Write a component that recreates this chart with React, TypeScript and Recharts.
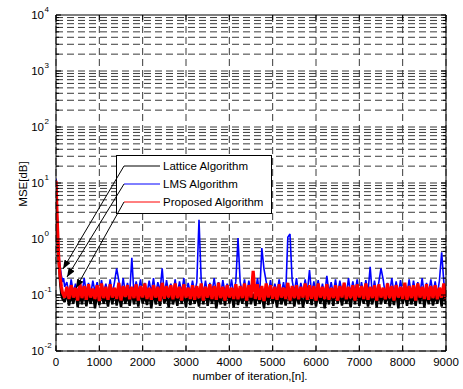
import { LineChart, Line, XAxis, YAxis, CartesianGrid } from "recharts";

// iteration index of each sample: dense start, then every 50 iterations
const headIterations = [0, 10, 20, 30, 45, 60, 80, 100, 125, 150, 175, 200];
const tailIterations = Array.from({ length: 176 }, (_, i) => 250 + i * 50);
const iterations = [...headIterations, ...tailIterations];

const xTicks = [0, 1000, 2000, 3000, 4000, 5000, 6000, 7000, 8000, 9000];
const yTicks = [0.01, 0.1, 1, 10, 100, 1000, 10000];

// Lattice Algorithm (black)
const latticeHead = [10, 5, 2.5, 1.5, 0.8, 0.4, 0.25, 0.15, 0.1, 0.085, 0.08, 0.075];
const latticeTail = [
  0.11, 0.065, 0.1, 0.07, 0.115, 0.06, 0.105, 0.068, 0.12, 0.063, 0.1, 0.07, 0.11, 0.058, 0.105, 0.066,
  0.115, 0.07, 0.1, 0.062, 0.11, 0.068, 0.12, 0.065, 0.105, 0.06, 0.11, 0.07, 0.1, 0.064, 0.115, 0.068,
  0.105, 0.062, 0.12, 0.07, 0.1, 0.066, 0.11, 0.058, 0.115, 0.068, 0.1, 0.064, 0.12, 0.07, 0.105, 0.06,
  0.11, 0.068, 0.1, 0.064, 0.115, 0.07, 0.105, 0.06, 0.12, 0.066, 0.11, 0.07, 0.1, 0.062, 0.115, 0.068,
  0.12, 0.064, 0.105, 0.07, 0.11, 0.058, 0.1, 0.068, 0.115, 0.065, 0.12, 0.07, 0.105, 0.06, 0.11, 0.066,
  0.1, 0.07, 0.115, 0.062, 0.12, 0.068, 0.105, 0.064, 0.11, 0.07, 0.1, 0.058, 0.115, 0.066, 0.12, 0.07,
  0.105, 0.06, 0.11, 0.068, 0.1, 0.065, 0.12, 0.07, 0.115, 0.062, 0.105, 0.068, 0.11, 0.06, 0.1, 0.07,
  0.115, 0.066, 0.12, 0.062, 0.105, 0.07, 0.11, 0.058, 0.1, 0.068, 0.115, 0.064, 0.12, 0.07, 0.105, 0.065,
  0.11, 0.07, 0.1, 0.06, 0.115, 0.068, 0.12, 0.064, 0.105, 0.07, 0.11, 0.062, 0.1, 0.068, 0.115, 0.06,
  0.12, 0.068, 0.105, 0.07, 0.11, 0.062, 0.1, 0.066, 0.115, 0.058, 0.12, 0.07, 0.105, 0.064, 0.11, 0.068,
  0.1, 0.064, 0.115, 0.07, 0.12, 0.06, 0.105, 0.068, 0.11, 0.065, 0.1, 0.07, 0.115, 0.062, 0.12, 0.066,
];

// LMS Algorithm (blue)
const lmsHead = [12, 7, 4, 2.5, 1.3, 0.7, 0.4, 0.3, 0.22, 0.17, 0.2, 0.14];
const lmsTail = [
  0.17, 0.1, 0.19, 0.11, 0.16, 0.105, 0.18, 0.1, 0.2, 0.11, 0.165, 0.1, 0.18, 0.115, 0.17, 0.1,
  0.185, 0.11, 0.16, 0.1, 0.19, 0.105, 0.17, 0.3, 0.18, 0.1, 0.2, 0.11, 0.165, 0.105, 0.46, 0.1,
  0.175, 0.11, 0.19, 0.1, 0.165, 0.105, 0.18, 0.11, 0.2, 0.1, 0.17, 0.115, 0.3, 0.1, 0.185, 0.11,
  0.16, 0.105, 0.19, 0.1, 0.175, 0.11, 0.2, 0.1, 0.165, 0.105, 0.18, 0.11, 0.17, 2.2, 0.19, 0.105,
  0.18, 0.1, 0.165, 0.11, 0.2, 0.105, 0.17, 0.1, 0.185, 0.11, 0.16, 0.1, 0.19, 0.105, 0.175, 1.04,
  0.17, 0.11, 0.19, 0.1, 0.18, 0.105, 0.165, 0.11, 0.2, 0.1, 0.69, 0.29, 0.175, 0.105, 0.185, 0.1,
  0.16, 0.11, 0.19, 0.105, 0.17, 0.1, 1.08, 1.23, 0.18, 0.11, 0.2, 0.1, 0.165, 0.105, 0.19, 0.11,
  0.28, 0.1, 0.175, 0.11, 0.185, 0.105, 0.16, 0.1, 0.22, 0.11, 0.17, 0.105, 0.19, 0.1, 0.18, 0.11,
  0.165, 0.1, 0.2, 0.105, 0.175, 0.11, 0.19, 0.1, 0.17, 0.105, 0.185, 0.11, 0.32, 0.1, 0.18, 0.105,
  0.17, 0.3, 0.19, 0.1, 0.165, 0.11, 0.2, 0.105, 0.175, 0.1, 0.185, 0.11, 0.16, 0.105, 0.19, 0.1,
  0.18, 0.11, 0.17, 0.105, 0.2, 0.1, 0.165, 0.11, 0.19, 0.105, 0.175, 0.1, 0.185, 0.58, 0.17, 0.11,
];

// Proposed Algorithm (red)
const proposedHead = [11, 6, 3.5, 2, 1.0, 0.5, 0.3, 0.2, 0.14, 0.11, 0.1, 0.09];
const proposedTail = [
  0.14, 0.085, 0.15, 0.09, 0.135, 0.08, 0.16, 0.088, 0.145, 0.082, 0.155, 0.09, 0.13, 0.085, 0.15, 0.078,
  0.16, 0.088, 0.14, 0.082, 0.155, 0.09, 0.135, 0.085, 0.165, 0.08, 0.145, 0.092, 0.15, 0.084, 0.14, 0.088,
  0.155, 0.08, 0.145, 0.09, 0.16, 0.085, 0.135, 0.082, 0.15, 0.09, 0.14, 0.078, 0.165, 0.086, 0.145, 0.09,
  0.15, 0.084, 0.16, 0.088, 0.14, 0.08, 0.155, 0.09, 0.135, 0.085, 0.15, 0.082, 0.145, 0.088, 0.16, 0.08,
  0.14, 0.09, 0.155, 0.085, 0.145, 0.082, 0.165, 0.088, 0.14, 0.08, 0.15, 0.09, 0.135, 0.085, 0.155, 0.084,
  0.145, 0.088, 0.16, 0.08, 0.15, 0.09, 0.27, 0.085, 0.155, 0.082, 0.145, 0.078, 0.16, 0.09, 0.15, 0.086,
  0.14, 0.082, 0.155, 0.09, 0.135, 0.085, 0.165, 0.08, 0.145, 0.088, 0.15, 0.084, 0.14, 0.09, 0.16, 0.082,
  0.15, 0.086, 0.145, 0.08, 0.16, 0.09, 0.14, 0.085, 0.155, 0.082, 0.135, 0.088, 0.15, 0.08, 0.145, 0.09,
  0.165, 0.084, 0.14, 0.088, 0.15, 0.08, 0.155, 0.09, 0.145, 0.085, 0.16, 0.082, 0.14, 0.088, 0.15, 0.08,
  0.155, 0.09, 0.135, 0.084, 0.16, 0.088, 0.145, 0.08, 0.15, 0.09, 0.14, 0.085, 0.165, 0.082, 0.145, 0.088,
  0.15, 0.08, 0.16, 0.09, 0.14, 0.085, 0.155, 0.082, 0.145, 0.088, 0.15, 0.084, 0.135, 0.09, 0.16, 0.085,
];

const lattice = [...latticeHead, ...latticeTail];
const lms = [...lmsHead, ...lmsTail];
const proposed = [...proposedHead, ...proposedTail];

const data = iterations.map((n, i) => ({ n, lattice: lattice[i], lms: lms[i], proposed: proposed[i] }));

// log grid: 1..9 x 10^k inside each decade
const yGrid = yTicks.slice(0, -1).flatMap((d) => [1, 2, 3, 4, 5, 6, 7, 8, 9].map((m) => +(m * d).toPrecision(3)));
const yMinor = yGrid.filter((v) => !yTicks.includes(v));
const yAllTicks = [...yTicks, ...yMinor].sort((a, b) => a - b);

const FONT = "'Liberation Sans', Arial, sans-serif";
const isDecade = (v: number) => Math.abs(Math.log10(v) - Math.round(Math.log10(v))) < 1e-6;

const BottomTick = ({ x, y, payload }: any) => (
  <g>
    <line x1={x} x2={x} y1={y} y2={y - 5} stroke="#000" />
    <text x={x} y={y + 15} textAnchor="middle" fontSize={11.5} fontFamily={FONT} fill="#000">
      {payload.value}
    </text>
  </g>
);

const TopTick = ({ x, y }: any) => <line x1={x} x2={x} y1={y} y2={y + 5} stroke="#000" />;

const LeftTick = ({ x, y, payload }: any) => {
  const major = isDecade(payload.value);
  const exp = Math.round(Math.log10(payload.value));
  return (
    <g>
      <line x1={x} x2={x + (major ? 5 : 3)} y1={y} y2={y} stroke="#000" />
      {major && (
        <text y={y + 4} fontFamily={FONT} fill="#000">
          <tspan x={x - 12} textAnchor="end" fontSize={11.5}>10</tspan>
          <tspan x={x - 11.5} dy={-7} textAnchor="start" fontSize={8}>{exp}</tspan>
        </text>
      )}
    </g>
  );
};

const RightTick = ({ x, y, payload }: any) => {
  const major = isDecade(payload.value);
  return <line x1={x} x2={x - (major ? 5 : 3)} y1={y} y2={y} stroke="#000" />;
};

const legendItems = [
  { label: "Lattice Algorithm", color: "#000000" },
  { label: "LMS Algorithm", color: "#0000ff" },
  { label: "Proposed Algorithm", color: "#ff0000" },
];
// where each legend arrow points on the curves (pixels)
const arrowTips = [
  [63, 269],
  [67, 277],
  [76, 288],
];

export default function App() {
  return (
    <div style={{ position: "absolute", left: 0, top: 0, width: 463, height: 389, background: "#fff" }}>
      <LineChart width={463} height={389} data={data} margin={{ top: 0, right: 0, bottom: 0, left: 0 }}>
        <CartesianGrid
          horizontalValues={yGrid}
          verticalValues={xTicks}
          stroke="#3a3a3a"
          strokeDasharray="7 4"
        />
        <XAxis
          type="number"
          dataKey="n"
          domain={[0, 9000]}
          ticks={xTicks}
          interval={0}
          height={38}
          tickSize={0}
          tickMargin={0}
          tickLine={false}
          tick={<BottomTick />}
          axisLine={{ stroke: "#000" }}
          allowDataOverflow
        />
        <XAxis
          xAxisId="t"
          orientation="top"
          type="number"
          dataKey="n"
          domain={[0, 9000]}
          ticks={xTicks}
          interval={0}
          height={15}
          tickSize={0}
          tickMargin={0}
          tickLine={false}
          tick={<TopTick />}
          axisLine={{ stroke: "#000" }}
          allowDataOverflow
        />
        <YAxis
          type="number"
          scale="log"
          domain={[0.01, 10000]}
          ticks={yAllTicks}
          interval={0}
          width={56}
          tickSize={0}
          tickMargin={0}
          tickLine={false}
          tick={<LeftTick />}
          axisLine={{ stroke: "#000" }}
          allowDataOverflow
        />
        <YAxis
          yAxisId="r"
          orientation="right"
          type="number"
          scale="log"
          domain={[0.01, 10000]}
          ticks={yAllTicks}
          interval={0}
          width={17}
          tickSize={0}
          tickMargin={0}
          tickLine={false}
          tick={<RightTick />}
          axisLine={{ stroke: "#000" }}
          allowDataOverflow
        />
        <Line dataKey="lattice" stroke="#000000" strokeWidth={2.4} strokeLinejoin="bevel" dot={false} isAnimationActive={false} />
        <Line dataKey="lms" stroke="#0000ff" strokeWidth={1.6} strokeLinejoin="bevel" dot={false} isAnimationActive={false} />
        <Line dataKey="proposed" stroke="#ff0000" strokeWidth={3.2} strokeLinejoin="bevel" dot={false} isAnimationActive={false} />
      </LineChart>

      {/* legend box, arrows and axis titles */}
      <svg width={463} height={389} style={{ position: "absolute", left: 0, top: 0, pointerEvents: "none" }}>
        <defs>
          <marker id="ah" markerWidth="9" markerHeight="7" refX="9" refY="3.5" orient="auto" markerUnits="userSpaceOnUse">
            <path d="M0,0 L9,3.5 L0,7 z" fill="#000" />
          </marker>
        </defs>
        <rect x={116.5} y={155.5} width={155} height={58} fill="#fff" stroke="#000" />
        {legendItems.map((it, i) => {
          const ly = 166 + i * 18;
          return (
            <g key={it.label}>
              <line x1={124} x2={160} y1={ly} y2={ly} stroke={it.color} />
              <text x={163} y={ly + 4} fontSize={11.5} fontFamily={FONT} fill="#000">
                {it.label}
              </text>
              <line x1={124} y1={ly} x2={arrowTips[i][0]} y2={arrowTips[i][1]} stroke="#000" markerEnd="url(#ah)" />
            </g>
          );
        })}
        <text transform="translate(27,184) rotate(-90)" textAnchor="middle" fontSize={11.5} fontFamily={FONT} fill="#000">
          MSE[dB]
        </text>
        <text x={250} y={380} textAnchor="middle" fontSize={11.5} fontFamily={FONT} fill="#000">
          number of iteration,[n].
        </text>
      </svg>
    </div>
  );
}
